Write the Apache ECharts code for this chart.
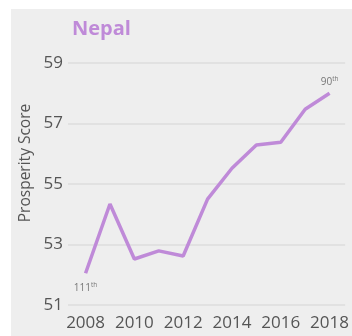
<!DOCTYPE html>
<html><head><meta charset="utf-8">
<script src="https://cdn.jsdelivr.net/npm/echarts@6/dist/echarts.min.js"></script>
<style>html,body{margin:0;padding:0;background:#fff}#c{width:352px;height:336px}</style>
</head><body><div id="c"></div>
<script>
const years = [2008,2009,2010,2011,2012,2013,2014,2015,2016,2017,2018];
const scores = [52.05,54.34,52.52,52.79,52.62,54.50,55.52,56.29,56.38,57.47,58.0];
const xTickLabels = [2008,2010,2012,2014,2016,2018];
const rankYears = [2008, 2018];
const rankValues = ['111', '90'];
const purple = '#bf8ad8';
const font = 'Open Sans';

const data = years.map((y, i) => {
  const k = rankYears.indexOf(y);
  const item = { value: [y, scores[i]] };
  if (k >= 0) {
    item.label = {
      show: true,
      position: k === 0 ? 'bottom' : 'top',
      distance: k === 0 ? 9 : 5,
      formatter: '{n|' + rankValues[k] + '}{s|th}',
      rich: {
        n: { fontSize: 10, color: '#777', fontFamily: font, lineHeight: 12 },
        s: { fontSize: 6.5, color: '#777', fontFamily: font, lineHeight: 12, padding: [0,0,6,0] }
      }
    };
  }
  return item;
});

const chart = echarts.init(document.getElementById('c'), null, { renderer: 'canvas' });
chart.setOption({
  backgroundColor: '#fff',
  animation: false,
  graphic: [
    { type: 'rect', z: -10, silent: true, shape: { x: 11, y: 9, width: 341, height: 327 }, style: { fill: '#eeeeee' } },
    { type: 'text', z: 10, x: 26, y: 163, rotation: Math.PI / 2,
      style: { text: 'Prosperity Score', fontSize: 15.5, fontFamily: font, fill: '#555', align: 'center', verticalAlign: 'middle' } }
  ],
  title: {
    text: 'Nepal', left: 67, top: 14,
    textStyle: { fontSize: 20, fontWeight: 'bold', color: purple, fontFamily: font }
  },
  grid: { left: 68, right: 0, top: 63, bottom: 31, containLabel: false },
  xAxis: {
    type: 'value', min: 2007.28, max: 2018.64,
    axisLine: { show: false }, axisTick: { show: false }, splitLine: { show: false },
    axisLabel: { customValues: xTickLabels, fontSize: 17, color: '#555', fontFamily: font, margin: 10,
      formatter: v => String(v) }
  },
  yAxis: {
    type: 'value', min: 51, max: 59, interval: 2,
    axisLine: { show: false }, axisTick: { show: false },
    splitLine: { lineStyle: { color: '#dddddd', width: 1.5 } },
    axisLabel: { fontSize: 17, color: '#555', fontFamily: font, margin: 5 }
  },
  series: [{
    type: 'line', data: data, symbol: 'circle', symbolSize: 0, showSymbol: true,
    lineStyle: { color: purple, width: 3.5 },
    itemStyle: { color: purple },
    labelLayout: { hideOverlap: false }
  }]
});
</script></body></html>
